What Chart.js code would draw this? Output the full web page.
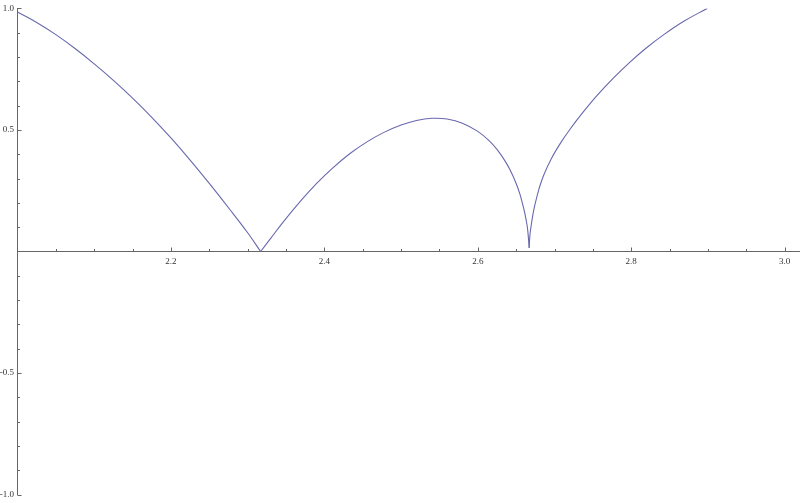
<!DOCTYPE html>
<html>
<head>
<meta charset="utf-8">
<script src="https://cdn.jsdelivr.net/npm/chart.js@4.4.1/dist/chart.umd.min.js"></script>
<style>
  html, body { margin: 0; padding: 0; background: #fff; }
  #wrap { width: 800px; height: 503px; position: relative; }
</style>
</head>
<body>
<div id="wrap"><canvas id="plot"></canvas></div>
<script>
// DATOS
const xValues = [
  2.000, 2.025, 2.050, 2.075, 2.100, 2.125, 2.150, 2.175, 2.200, 2.225, 2.250, 2.275, 2.300, 2.317,
  2.330, 2.346, 2.370, 2.390, 2.410, 2.433, 2.455, 2.477, 2.500, 2.520, 2.540, 2.560, 2.580, 2.600,
  2.615, 2.625, 2.635, 2.642, 2.650, 2.655, 2.660, 2.663, 2.665, 2.667,
  2.668, 2.670, 2.672, 2.675, 2.680, 2.686, 2.696, 2.708, 2.720, 2.737, 2.755, 2.777, 2.798, 2.820,
  2.842, 2.868, 2.899
];
const yValues = [
  0.985, 0.942, 0.892, 0.835, 0.772, 0.704, 0.631, 0.552, 0.467, 0.376, 0.280, 0.180, 0.077, 0.000,
  0.054, 0.120, 0.211, 0.280, 0.341, 0.402, 0.450, 0.489, 0.520, 0.539, 0.548, 0.545, 0.528, 0.494,
  0.455, 0.420, 0.375, 0.336, 0.280, 0.235, 0.175, 0.130, 0.090, 0.015,
  0.070, 0.115, 0.155, 0.200, 0.260, 0.315, 0.383, 0.447, 0.502, 0.572, 0.640, 0.714, 0.778, 0.838,
  0.891, 0.946, 1.000
];
// indices de los puntos angulosos (ceros de la curva)
const cuspIndex = [13, 37];
const xTickLabels = [2.2, 2.4, 2.6, 2.8, 3.0];
const yTickLabels = [-1.0, -0.5, 0.5, 1.0];
const xMinorStep = 0.05;
const yMinorStep = 0.1;

const axisColor = '#666666';
const textColor = '#333333';
const lineColor = '#6868ae';

// MARCAS DE EJE (mayores y menores) estilo Mathematica
const tickMarks = {
  id: 'tickMarks',
  afterDraw(chart) {
    const { ctx, scales: { x, y } } = chart;
    const x0 = x.getPixelForValue(2);
    const y0 = y.getPixelForValue(0);
    ctx.save();
    ctx.strokeStyle = axisColor;
    ctx.lineWidth = 1;
    ctx.beginPath();
    for (let i = 1; i * xMinorStep <= 1.0001; i++) {
      const v = 2 + i * xMinorStep;
      const px = Math.round(x.getPixelForValue(v)) + 0.5;
      const major = xTickLabels.some(t => Math.abs(t - v) < 1e-6);
      ctx.moveTo(px, y0);
      ctx.lineTo(px, y0 - (major ? 4 : 2.5));
    }
    for (let i = -10; i <= 10; i++) {
      if (i === 0) continue;
      const v = i * yMinorStep;
      const py = Math.round(y.getPixelForValue(v)) + 0.5;
      const major = yTickLabels.some(t => Math.abs(t - v) < 1e-6);
      ctx.moveTo(x0, py);
      ctx.lineTo(x0 + (major ? 4 : 2.5), py);
    }
    ctx.stroke();
    ctx.restore();
  }
};

// Un tramo suave entre cada par de ceros, para conservar los picos
const bounds = [0, ...cuspIndex, xValues.length - 1];
const datasets = [];
for (let s = 0; s < bounds.length - 1; s++) {
  const pts = [];
  for (let i = bounds[s]; i <= bounds[s + 1]; i++) pts.push({ x: xValues[i], y: yValues[i] });
  datasets.push({
    data: pts,
    borderColor: lineColor,
    borderWidth: 1.1,
    pointRadius: 0,
    tension: 0.4,
    fill: false
  });
}

const ctx = document.getElementById('plot').getContext('2d');
new Chart(ctx, {
  type: 'line',
  data: { datasets: datasets },
  options: {
    responsive: true,
    maintainAspectRatio: false,
    animation: false,
    layout: { padding: { left: 17.5, top: 5, bottom: 6, right: 0 } },
    plugins: {
      legend: { display: false },
      tooltip: { enabled: false }
    },
    scales: {
      x: {
        type: 'linear',
        min: 2.0,
        max: 3.02,
        position: { y: 0 },
        afterBuildTicks: s => { s.ticks = xTickLabels.map(v => ({ value: v })); },
        grid: { display: false, drawTicks: false },
        border: { display: true, color: axisColor, width: 1 },
        ticks: {
          color: textColor,
          padding: 5,
          maxRotation: 0,
          autoSkip: false,
          font: { family: "'Liberation Serif', serif", size: 9 },
          callback: v => v.toFixed(1)
        }
      },
      y: {
        type: 'linear',
        min: -1,
        max: 1,
        position: { x: 2 },
        afterBuildTicks: s => { s.ticks = yTickLabels.map(v => ({ value: v })); },
        grid: { display: false, drawTicks: false },
        border: { display: true, color: axisColor, width: 1 },
        ticks: {
          color: textColor,
          autoSkip: false,
          font: { family: "'Liberation Serif', serif", size: 9 },
          // el eje centrado no aplica padding: se deja un pequeño hueco
          callback: v => v.toFixed(1) + '\u2009\u2009'
        }
      }
    }
  },
  plugins: [tickMarks]
});
</script>
</body>
</html>
